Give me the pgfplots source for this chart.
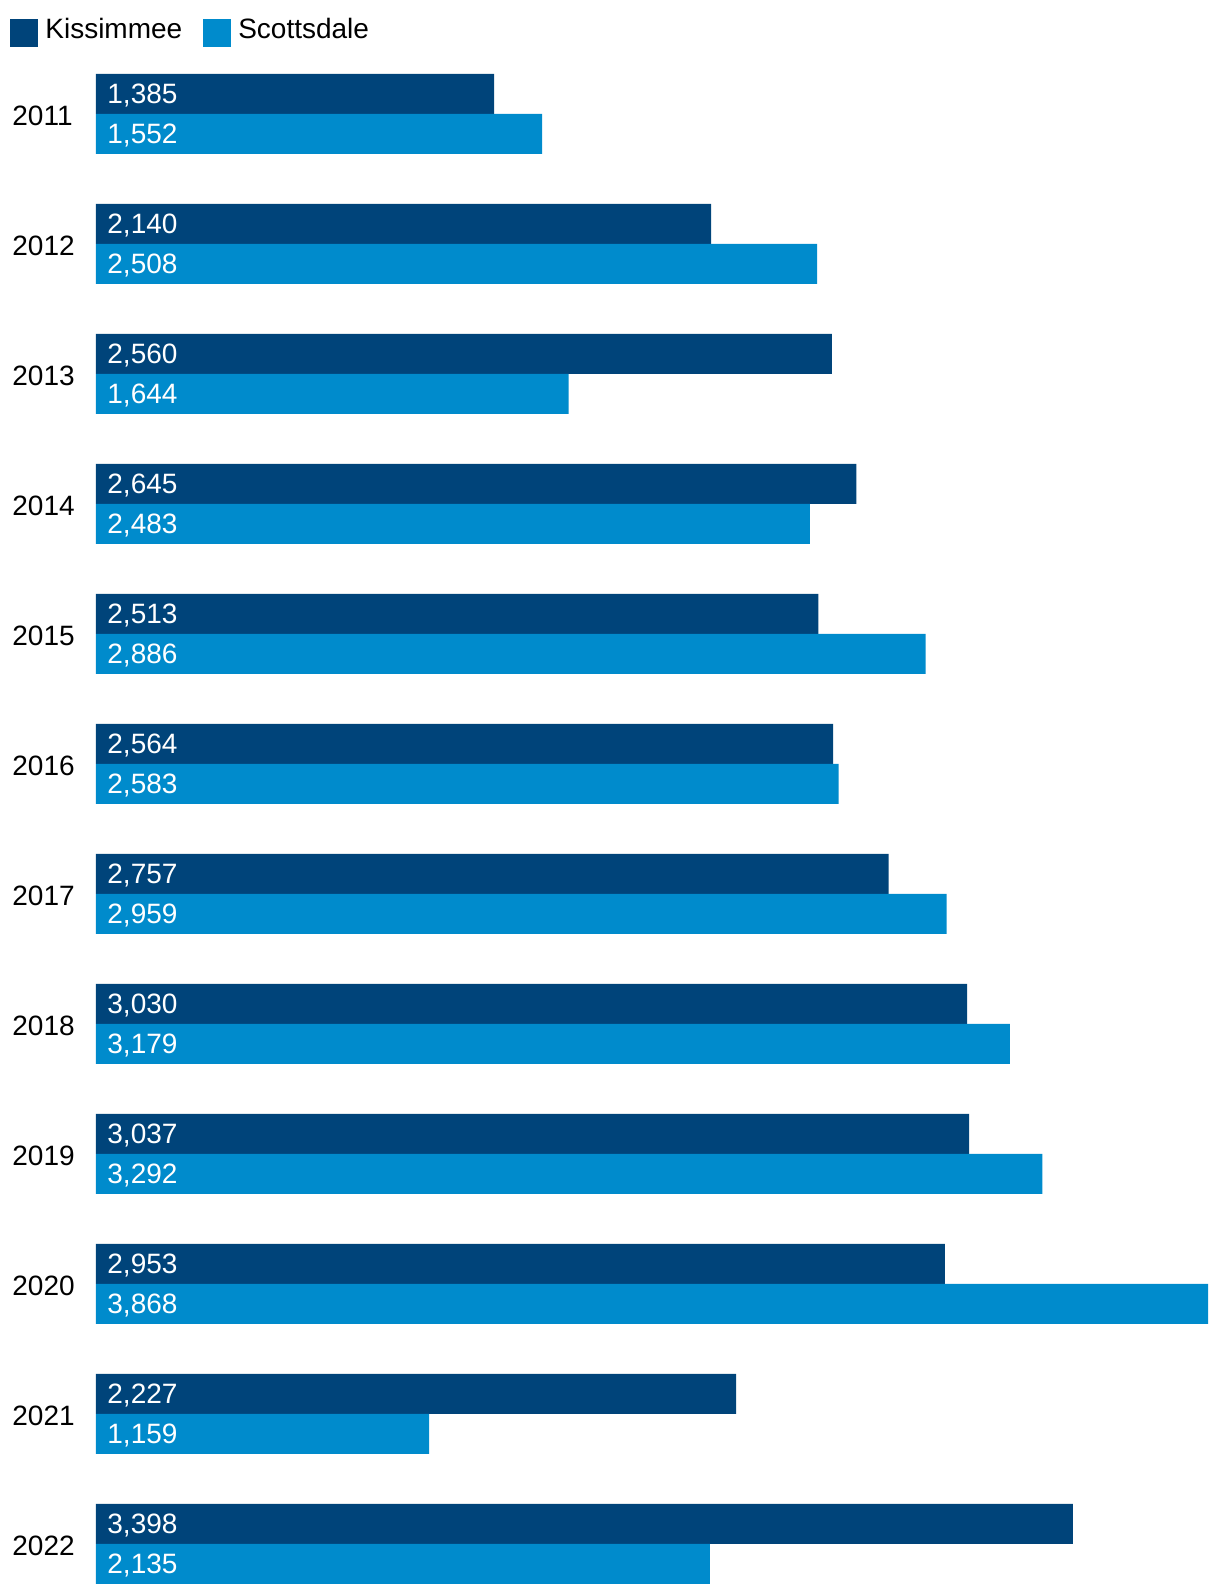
\documentclass[border=0pt]{standalone}
\usepackage{pgfplots}
\usepackage{pgfplotstable}
\pgfplotsset{compat=1.18}
\usepackage{fontspec}
\setmainfont{Liberation Sans}
\definecolor{kdark}{RGB}{0,68,122}
\definecolor{slight}{RGB}{0,139,204}
\pgfplotstableread{
idx year k s
11 2011 1385 1552
10 2012 2140 2508
9 2013 2560 1644
8 2014 2645 2483
7 2015 2513 2886
6 2016 2564 2583
5 2017 2757 2959
4 2018 3030 3179
3 2019 3037 3292
2 2020 2953 3868
1 2021 2227 1159
0 2022 3398 2135
}\data
\begin{document}
\begin{tikzpicture}
\begin{axis}[
  at={(0,0)}, anchor=south west,
  scale only axis, width=556pt, height=755pt,
  xmin=0, xmax=3868, ymin=-0.307692, ymax=11.307692,
  xbar, bar width=20pt,
  clip=false,
  axis line style={draw=none},
  major tick length=0pt,
  xtick=\empty,
  ytick={0,...,11},
  yticklabels={2022,2021,2020,2019,2018,2017,2016,2015,2014,2013,2012,2011},
  yticklabel style={font=\fontsize{14}{16}\selectfont, anchor=base west, inner sep=0pt, xshift=-42pt, yshift=-5.75pt, text=black},
  legend image code/.code={\fill[#1] (0pt,-8.3pt) rectangle (14pt,5.7pt);},
  legend columns=2,
  legend cell align=left,
  legend style={at={(axis description cs:-0.07734,1.03709)}, anchor=north west, draw=none, inner sep=0pt,
    font=\fontsize{14}{16}\selectfont,
    nodes={inner sep=0pt},
    /tikz/every odd column/.append style={column sep=3.5pt},
    /tikz/every even column/.append style={column sep=10.5pt}},
]
\addplot[fill=kdark, draw=none, bar shift=10pt] table[x=k, y=idx] {\data};
\addlegendentry{Kissimmee}
\addplot[fill=slight, draw=none, bar shift=-10pt] table[x=s, y=idx] {\data};
\addlegendentry{Scottsdale}
\addplot[forget plot, draw=none, fill=none, bar shift=0pt, point meta=explicit,
  nodes near coords={\pgfmathprintnumber[fixed, precision=0, 1000 sep={,}, assume math mode=true]{\pgfplotspointmeta}},
  nodes near coords style={anchor=base west, inner sep=0pt, xshift=5.5pt, yshift=5pt, text=white, font=\fontsize{14}{16}\selectfont}]
  table[x expr=0, y=idx, meta=k] {\data};
\addplot[forget plot, draw=none, fill=none, bar shift=0pt, point meta=explicit,
  nodes near coords={\pgfmathprintnumber[fixed, precision=0, 1000 sep={,}, assume math mode=true]{\pgfplotspointmeta}},
  nodes near coords style={anchor=base west, inner sep=0pt, xshift=5.5pt, yshift=-15pt, text=white, font=\fontsize{14}{16}\selectfont}]
  table[x expr=0, y=idx, meta=s] {\data};
\end{axis}
\pgfresetboundingbox
\path (-48pt,-6pt) rectangle (562pt,792pt);
\end{tikzpicture}
\end{document}
